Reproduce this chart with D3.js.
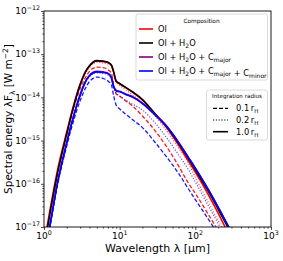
<!DOCTYPE html>
<html>
<head>
<meta charset="utf-8">
<script src="https://cdn.jsdelivr.net/npm/d3@7"></script>
<style>
  html, body { margin: 0; padding: 0; background: #fff; }
  svg { display: block; font-family: "DejaVu Sans", sans-serif; }
</style>
</head>
<body>
<svg id="chart" width="283" height="261"></svg>
<script>
// ---------- Data ----------
const wavelengths = [1, 1.2, 1.5, 2, 2.5, 3, 3.5, 4, 5, 6, 7, 7.8, 8.3, 9, 10, 12, 15, 20, 30, 40, 60, 80, 100, 150, 200, 300];

// OI
const ol_10 = [4.0e-18, 2.5e-17, 2.0e-16, 1.6e-15, 7.2e-15, 2.0e-14, 3.8e-14, 5.4e-14, 7.0e-14, 6.8e-14, 6.4e-14, 5.5e-14, 3.9e-14, 2.35e-14, 2.05e-14, 1.68e-14, 1.3e-14, 8.8e-15, 3.9e-15, 2.2e-15, 7.9e-16, 3.5e-16, 1.86e-16, 5.4e-17, 2.1e-17, 5.0e-18];
const ol_02 = [3.2e-18, 2.05e-17, 1.66e-16, 1.41e-15, 6.5e-15, 1.82e-14, 3.5e-14, 4.9e-14, 6.5e-14, 6.3e-14, 5.9e-14, 5.0e-14, 3.55e-14, 2.2e-14, 1.9e-14, 1.5e-14, 1.12e-14, 7.6e-15, 3.55e-15, 1.9e-15, 6.8e-16, 3.16e-16, 1.41e-16, 3.6e-17, 1.41e-17, 4.0e-18];
const ol_01 = [3.2e-18, 2.0e-17, 1.58e-16, 1.35e-15, 6.0e-15, 1.58e-14, 2.8e-14, 4.0e-14, 5.0e-14, 4.9e-14, 4.4e-14, 3.55e-14, 2.0e-14, 1.2e-14, 1.07e-14, 8.3e-15, 6.2e-15, 3.7e-15, 1.62e-15, 8.1e-16, 2.6e-16, 1.07e-16, 6.0e-17, 1.9e-17, 8.3e-18, 2.5e-18];
// OI + H2O
const olh2o_10 = [3.2e-18, 2.1e-17, 1.7e-16, 1.45e-15, 6.8e-15, 1.95e-14, 3.8e-14, 5.4e-14, 7.1e-14, 6.9e-14, 6.5e-14, 5.6e-14, 4.0e-14, 2.4e-14, 2.1e-14, 1.7e-14, 1.32e-14, 8.9e-15, 4.0e-15, 2.3e-15, 8.7e-16, 4.0e-16, 2.1e-16, 6.5e-17, 2.6e-17, 6.9e-18];
// OI + H2O + Cmajor
const cmaj_10 = [2.1e-18, 1.15e-17, 1.03e-16, 9.1e-16, 4.1e-15, 1.15e-14, 2.3e-14, 3.25e-14, 4.0e-14, 3.9e-14, 3.65e-14, 2.9e-14, 1.85e-14, 1.45e-14, 1.38e-14, 1.2e-14, 1.02e-14, 7.4e-15, 3.85e-15, 2.35e-15, 9.1e-16, 4.2e-16, 2.3e-16, 7.1e-17, 2.9e-17, 7.6e-18];
// OI + H2O + Cmajor + Cminor
const cmin_10 = [2.0e-18, 1.12e-17, 1.0e-16, 8.9e-16, 4.0e-15, 1.12e-14, 2.24e-14, 3.16e-14, 3.9e-14, 3.8e-14, 3.55e-14, 2.8e-14, 1.78e-14, 1.41e-14, 1.35e-14, 1.17e-14, 1.0e-14, 7.2e-15, 3.8e-15, 2.34e-15, 9.1e-16, 4.2e-16, 2.3e-16, 7.1e-17, 2.9e-17, 7.6e-18];
const cmin_02 = [1.9e-18, 1.07e-17, 9.5e-17, 8.5e-16, 3.8e-15, 1.05e-14, 2.1e-14, 3.0e-14, 3.7e-14, 3.6e-14, 3.3e-14, 2.6e-14, 1.66e-14, 1.26e-14, 1.07e-14, 8.7e-15, 6.9e-15, 5.1e-15, 2.45e-15, 1.29e-15, 4.7e-16, 2.2e-16, 1.1e-16, 3.0e-17, 1.2e-17, 3.2e-18];
const cmin_01 = [1.78e-18, 1.0e-17, 8.9e-17, 7.6e-16, 3.16e-15, 8.3e-15, 1.58e-14, 2.34e-14, 2.95e-14, 2.75e-14, 2.4e-14, 1.9e-14, 1.12e-14, 6.6e-15, 5.4e-15, 4.1e-15, 3.0e-15, 2.0e-15, 8.7e-16, 4.6e-16, 1.74e-16, 7.9e-17, 4.3e-17, 1.48e-17, 6.8e-18, 2.5e-18];

const xTicks = [1, 10, 100, 1000];
const xTickExp = ["0", "1", "2", "3"];
const yTicks = [1e-17, 1e-16, 1e-15, 1e-14, 1e-13, 1e-12];
const yTickExp = ["\u221217", "\u221216", "\u221215", "\u221214", "\u221213", "\u221212"];

const compNames = ["Ol", "Ol + H2O", "Ol + H2O + Cmajor", "Ol + H2O + Cmajor + Cminor"];
const compColors = ["#ff0000", "#000000", "#800080", "#0000ff"];
const radiusNames = ["0.1", "0.2", "1.0"];

// ---------- Layout ----------
const svg = d3.select("#chart");
const L = 44, R = 271, T = 11, B = 227;

const x = d3.scaleLog().domain([1, 1000]).range([L, R]);
const y = d3.scaleLog().domain([1e-17, 1e-12]).range([B, T]);

// styles per radius
const dashFor = { "0.1": "4,2", "0.2": "1.2,1.6", "1.0": null };
const widthFor = { "0.1": 1.3, "0.2": 1.1, "1.0": 1.6 };
const opacityFor = { "0.1": 0.9, "0.2": 0.7, "1.0": 1 };

const series = [
  { comp: 0, r: "0.1", v: ol_01 },
  { comp: 0, r: "0.2", v: ol_02 },
  { comp: 0, r: "1.0", v: ol_10 },
  { comp: 1, r: "1.0", v: olh2o_10 },
  { comp: 2, r: "1.0", v: cmaj_10 },
  { comp: 3, r: "0.1", v: cmin_01 },
  { comp: 3, r: "0.2", v: cmin_02 },
  { comp: 3, r: "1.0", v: cmin_10 }
];

// ---------- Clip ----------
svg.append("defs").append("clipPath").attr("id", "clip")
  .append("rect").attr("x", L).attr("y", T).attr("width", R - L).attr("height", B - T);

// ---------- Lines ----------
const line = d3.line()
  .x(d => x(d[0]))
  .y(d => y(d[1]))
  .curve(d3.curveMonotoneX);

const lineG = svg.append("g").attr("clip-path", "url(#clip)");
series.forEach(s => {
  lineG.append("path")
    .datum(wavelengths.map((w, i) => [w, s.v[i]]))
    .attr("d", line)
    .attr("fill", "none")
    .attr("stroke", compColors[s.comp])
    .attr("stroke-width", widthFor[s.r])
    .attr("stroke-opacity", opacityFor[s.r])
    .attr("stroke-dasharray", dashFor[s.r]);
});

// ---------- Axes ----------
function minorTicks(lo, hi) {
  const out = [];
  for (let e = lo; e < hi; e++) for (let k = 2; k <= 9; k++) out.push(k * Math.pow(10, e));
  return out;
}

const xAxisG = svg.append("g").attr("transform", `translate(0,${B})`);
xAxisG.call(d3.axisBottom(x).tickValues(xTicks).tickSize(3).tickFormat("").tickSizeOuter(0));
xAxisG.append("g").call(d3.axisBottom(x).tickValues(minorTicks(0, 3)).tickSize(1.6).tickFormat("").tickSizeOuter(0));

const yAxisG = svg.append("g").attr("transform", `translate(${L},0)`);
yAxisG.call(d3.axisLeft(y).tickValues(yTicks).tickSize(3).tickFormat("").tickSizeOuter(0));
yAxisG.append("g").call(d3.axisLeft(y).tickValues(minorTicks(-17, -12)).tickSize(1.6).tickFormat("").tickSizeOuter(0));

svg.selectAll(".domain").remove();
svg.selectAll(".tick line").attr("stroke", "#000").attr("stroke-width", 0.7);

// frame
svg.append("rect").attr("x", L).attr("y", T).attr("width", R - L).attr("height", B - T)
  .attr("fill", "none").attr("stroke", "#000").attr("stroke-width", 0.9);

// tick labels with superscripts
function powLabel(sel, exp) {
  sel.append("tspan").text("10");
  sel.append("tspan").attr("dy", -4).attr("font-size", 6.3).text(exp);
}
xTicks.forEach((t, i) => {
  const tx = svg.append("text").attr("x", x(t)).attr("y", 239)
    .attr("text-anchor", "middle").attr("font-size", 9).attr("fill", "#000");
  powLabel(tx, xTickExp[i]);
});
yTicks.forEach((t, i) => {
  const tx = svg.append("text").attr("x", 40).attr("y", y(t) + 3.2)
    .attr("text-anchor", "end").attr("font-size", 9).attr("fill", "#000");
  powLabel(tx, yTickExp[i]);
});

// axis titles
const xt = svg.append("text").attr("x", (L + R) / 2).attr("y", 252)
  .attr("text-anchor", "middle").attr("font-size", 11);
xt.append("tspan").text("Wavelength \u03bb [\u03bcm]");

const yt = svg.append("text")
  .attr("transform", `translate(12,${(T + B) / 2}) rotate(-90)`)
  .attr("text-anchor", "middle").attr("font-size", 10.5);
yt.append("tspan").text("Spectral energy \u03bbF");
yt.append("tspan").attr("dy", 2.5).attr("font-size", 7.5).text("\u03bb");
yt.append("tspan").attr("dy", -2.5).text(" [W m");
yt.append("tspan").attr("dy", -4).attr("font-size", 7.5).text("\u22122");
yt.append("tspan").attr("dy", 4).text("]");

// ---------- Legends ----------
function richText(sel, str) {
  // subscripts: the "2" in H2O, "major", "minor"
  const parts = str.split(/(H2O|Cmajor|Cminor)/).filter(p => p.length);
  parts.forEach(p => {
    if (p === "H2O") {
      sel.append("tspan").text("H");
      sel.append("tspan").attr("dy", 1.8).attr("font-size", 6).text("2");
      sel.append("tspan").attr("dy", -1.8).text("O");
    } else if (p === "Cmajor" || p === "Cminor") {
      sel.append("tspan").text("C");
      sel.append("tspan").attr("dy", 1.8).attr("font-size", 6).text(p.slice(1));
      sel.append("tspan").attr("dy", -1.8).text("");
    } else {
      sel.append("tspan").text(p);
    }
  });
}

const leg1 = svg.append("g");
leg1.append("rect").attr("x", 136).attr("y", 14).attr("width", 131.5).attr("height", 66)
  .attr("rx", 2).attr("fill", "#fff").attr("fill-opacity", 0.85)
  .attr("stroke", "#d0d0d0").attr("stroke-width", 0.8);
leg1.append("text").attr("x", 201.5).attr("y", 22.5).attr("text-anchor", "middle")
  .attr("font-size", 5.8).text("Composition");
compNames.forEach((name, i) => {
  const yy = 29 + i * 14;
  leg1.append("line").attr("x1", 139).attr("x2", 153).attr("y1", yy).attr("y2", yy)
    .attr("stroke", compColors[i]).attr("stroke-width", 1.6);
  const t = leg1.append("text").attr("x", 158).attr("y", yy + 3).attr("font-size", 8.3);
  richText(t, name);
});

const leg2 = svg.append("g");
leg2.append("rect").attr("x", 206.5).attr("y", 90).attr("width", 61).attr("height", 50)
  .attr("rx", 2).attr("fill", "#fff").attr("fill-opacity", 0.85)
  .attr("stroke", "#d0d0d0").attr("stroke-width", 0.8);
leg2.append("text").attr("x", 237).attr("y", 97.5).attr("text-anchor", "middle")
  .attr("font-size", 5.6).text("Integration radius");
radiusNames.forEach((r, i) => {
  const yy = 108.3 + i * 11.7;
  leg2.append("line").attr("x1", 213).attr("x2", 228).attr("y1", yy).attr("y2", yy)
    .attr("stroke", "#000").attr("stroke-width", widthFor[r])
    .attr("stroke-dasharray", dashFor[r]);
  const t = leg2.append("text").attr("x", 236).attr("y", yy + 3).attr("font-size", 8.3);
  t.append("tspan").text(r + "\u2009r");
  t.append("tspan").attr("dy", 1.8).attr("font-size", 5.5).text("H");
});
</script>
</body>
</html>
